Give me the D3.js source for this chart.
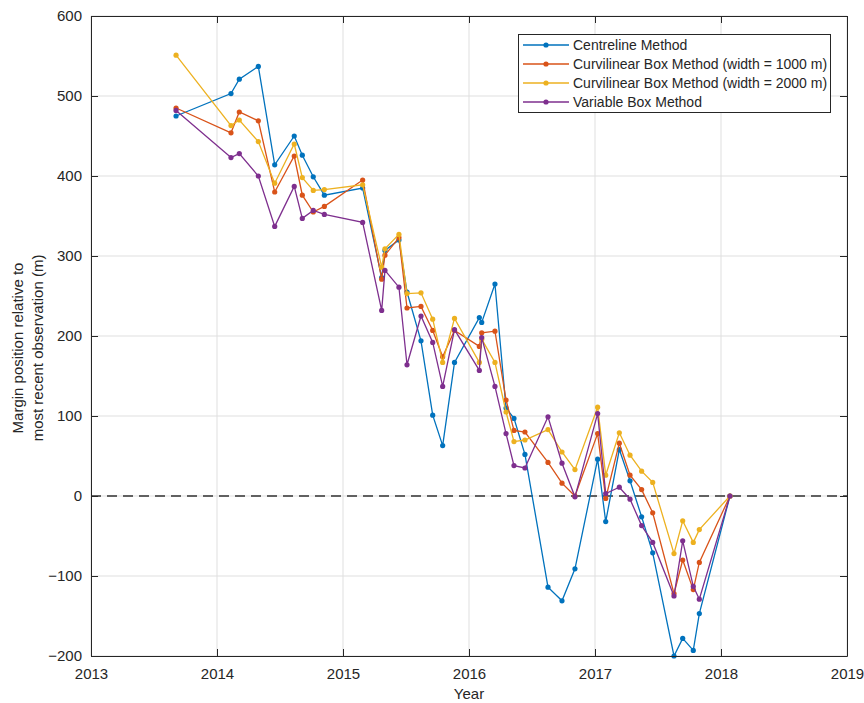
<!DOCTYPE html>
<html><head><meta charset="utf-8">
<script src="https://cdn.jsdelivr.net/npm/d3@7"></script>
<style>
html,body{margin:0;padding:0;background:#fff;}
svg text{font-family:"Liberation Sans",Arial,Helvetica,sans-serif;}
</style></head>
<body><svg id="c" width="864" height="703"></svg>
<script>
// Observation dates (decimal years)
const dates = [2013.675, 2014.111, 2014.177, 2014.328, 2014.458, 2014.613, 2014.677, 2014.764, 2014.852, 2015.156,
  2015.307, 2015.333, 2015.444, 2015.508, 2015.619, 2015.712, 2015.791, 2015.885, 2016.082, 2016.101,
  2016.206, 2016.294, 2016.357, 2016.444, 2016.627, 2016.738, 2016.841, 2017.021, 2017.085, 2017.193,
  2017.278, 2017.370, 2017.458, 2017.627, 2017.696, 2017.780, 2017.828, 2018.071];
const centreline = [475, 503, 521, 537, 414, 450, 426, 399, 376, 385, 273, 307, 320, 255, 194, 101, 63, 167, 223, 217,
  265, 110, 97, 52, -114, -131, -91, 46, -32, 58, 19, -26, -71, -200, -178, -193, -147, 0];
const curvi1000 = [485, 454, 480, 469, 380, 425, 376, 355, 362, 395, 271, 301, 323, 235, 237, 207, 174, 207, 187, 204,
  206, 120, 82, 80, 42, 16, 0, 78, -3, 66, 26, 8, -21, -122, -80, -117, -83, 0];
const curvi2000 = [551, 463, 470, 443, 391, 440, 398, 382, 383, 389, 286, 309, 327, 253, 254, 221, 167, 222, 167, 196,
  167, 105, 68, 70, 83, 55, 33, 111, 26, 79, 51, 31, 17, -72, -31, -58, -42, 0];
const variableBox = [482, 423, 428, 400, 337, 387, 347, 357, 352, 342, 232, 282, 261, 164, 225, 192, 137, 208, 157, 198,
  137, 78, 38, 35, 99, 41, -1, 103, 3, 11, -4, -37, -58, -125, -56, -113, -129, 0];
const seriesNames = ["Centreline Method", "Curvilinear Box Method (width = 1000 m)", "Curvilinear Box Method (width = 2000 m)", "Variable Box Method"];
const seriesColors = ["#0072BD", "#D95319", "#EDB120", "#7E2F8E"];
const xTicks = [2013, 2014, 2015, 2016, 2017, 2018, 2019];
const yTicks = [-200, -100, 0, 100, 200, 300, 400, 500, 600];
const xLabel = "Year";
const yLabelLines = ["Margin position relative to", "most recent observation (m)"];

const seriesValues = [centreline, curvi1000, curvi2000, variableBox];

const L = 91, R = 847, T = 16, B = 656;
const svg = d3.select("#c");
const x = d3.scaleLinear().domain([2013, 2019]).range([L, R]);
const y = d3.scaleLinear().domain([-200, 600]).range([B, T]);
const axisColor = "#262626";

// grid
const grid = svg.append("g");
grid.selectAll("line.gx").data(xTicks).join("line")
  .attr("x1", d => x(d)).attr("x2", d => x(d)).attr("y1", T).attr("y2", B)
  .attr("stroke", "#dfdfdf").attr("stroke-width", 1);
grid.selectAll("line.gy").data(yTicks).join("line")
  .attr("y1", d => y(d)).attr("y2", d => y(d)).attr("x1", L).attr("x2", R)
  .attr("stroke", "#dfdfdf").attr("stroke-width", 1);

// zero dashed line
svg.append("line").attr("x1", L).attr("x2", R).attr("y1", y(0)).attr("y2", y(0))
  .attr("stroke", "#333").attr("stroke-width", 1.5).attr("stroke-dasharray", "10,6");

// series
const line = d3.line().x(d => x(d[0])).y(d => y(d[1]));
seriesValues.forEach((vals, i) => {
  const pts = dates.map((d, j) => [d, vals[j]]);
  const g = svg.append("g");
  g.append("path").datum(pts).attr("d", line).attr("fill", "none")
    .attr("stroke", seriesColors[i]).attr("stroke-width", 1.3);
  g.selectAll("circle").data(pts).join("circle")
    .attr("cx", d => x(d[0])).attr("cy", d => y(d[1])).attr("r", 2.6)
    .attr("fill", seriesColors[i]);
});

// axes
function styleAxis(g) {
  g.selectAll("path.domain").attr("stroke", axisColor).attr("stroke-width", 1);
  g.selectAll(".tick line").attr("stroke", axisColor);
  g.selectAll(".tick text").attr("fill", axisColor).attr("font-size", 15)
    .style("font-family", '"Liberation Sans", Arial, sans-serif');
}
svg.append("g").attr("transform", `translate(0,${B})`)
  .call(d3.axisBottom(x).tickValues(xTicks).tickFormat(d3.format("d")).tickSize(-7).tickSizeOuter(0).tickPadding(12))
  .call(styleAxis);
svg.append("g").attr("transform", `translate(${L},0)`)
  .call(d3.axisLeft(y).tickValues(yTicks).tickFormat(d3.format("d")).tickSize(-7).tickSizeOuter(0).tickPadding(9))
  .call(styleAxis);
svg.append("g").attr("transform", `translate(0,${T})`)
  .call(d3.axisTop(x).tickValues(xTicks).tickFormat("").tickSize(-7).tickSizeOuter(0))
  .call(styleAxis);
svg.append("g").attr("transform", `translate(${R},0)`)
  .call(d3.axisRight(y).tickValues(yTicks).tickFormat("").tickSize(-7).tickSizeOuter(0))
  .call(styleAxis);

// axis labels
svg.append("text").attr("x", (L + R) / 2).attr("y", 699).attr("text-anchor", "middle")
  .attr("font-size", 15).attr("fill", axisColor).text(xLabel);
const yl = svg.append("text").attr("transform", `translate(0,348) rotate(-90)`)
  .attr("text-anchor", "middle").attr("font-size", 15).attr("fill", axisColor);
yLabelLines.forEach((t, i) => {
  yl.append("tspan").attr("x", 0).attr("y", 23 + i * 20).text(t);
});

// legend
const lg = svg.append("g");
lg.append("rect").attr("x", 518.5).attr("y", 34.5).attr("width", 312).attr("height", 78)
  .attr("fill", "#fff").attr("stroke", axisColor).attr("stroke-width", 1);
seriesNames.forEach((n, i) => {
  const cy = 45 + i * 19;
  lg.append("line").attr("x1", 523).attr("x2", 569).attr("y1", cy).attr("y2", cy)
    .attr("stroke", seriesColors[i]).attr("stroke-width", 1.3);
  lg.append("circle").attr("cx", 546).attr("cy", cy).attr("r", 2.6).attr("fill", seriesColors[i]);
  lg.append("text").attr("x", 573).attr("y", cy + 5).attr("font-size", 14).attr("fill", axisColor).text(n);
});
</script></body></html>
